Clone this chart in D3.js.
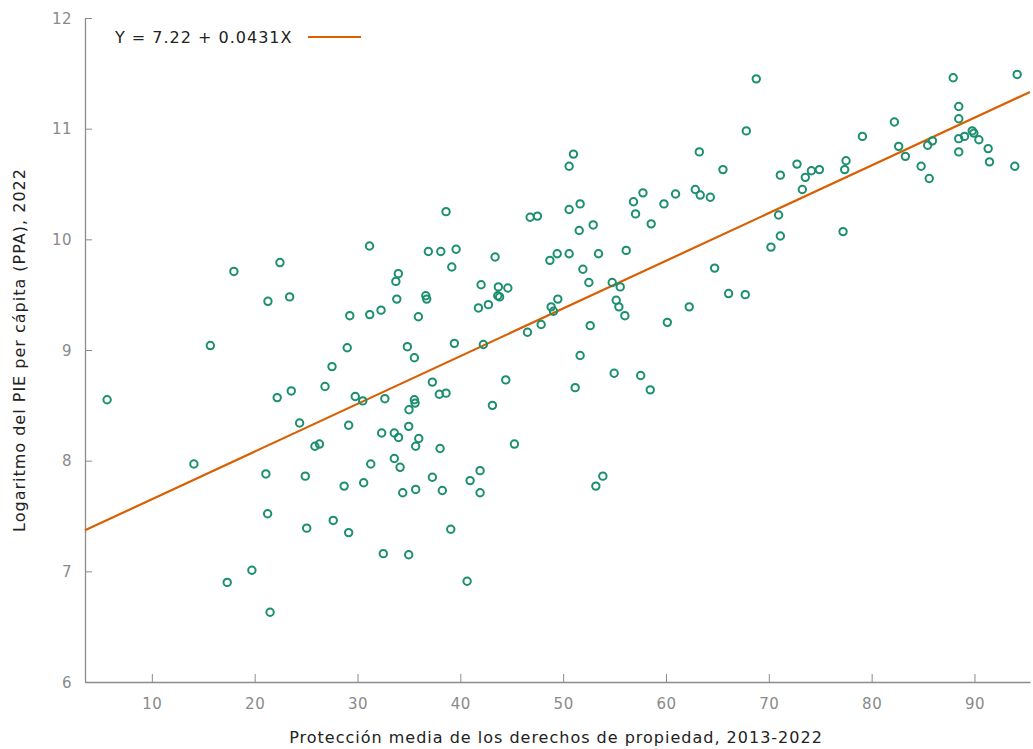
<!DOCTYPE html>
<html>
<head>
<meta charset="utf-8">
<script src="https://cdn.jsdelivr.net/npm/d3@7"></script>
<style>
  body { margin: 0; background: #fff; }
  text { font-family: "DejaVu Sans", Verdana, sans-serif; }
</style>
</head>
<body>
<div class="canvas"></div>
<script>
// property-rights score (x) and log GDP per capita (y)
const xVals = [
  5.65, 14.09, 15.69, 17.98, 17.33, 19.73, 21.50, 21.09, 21.26, 21.29,
  22.46, 22.19, 23.40, 23.56, 24.37, 24.92, 25.06, 25.86, 26.30, 26.84,
  27.52, 27.64, 28.70, 29.14, 29.00, 29.14, 29.25, 29.78, 30.51, 30.60,
  31.17, 31.29, 31.19, 32.29, 32.51, 32.35, 32.66, 33.58, 33.58, 33.73,
  33.97, 33.82, 33.99, 34.14, 34.40, 34.85, 34.98, 34.98, 35.01, 35.53,
  35.53, 35.60, 35.66, 35.66, 35.96, 35.92, 36.64, 36.73, 36.89, 37.28,
  37.28, 38.10, 37.96, 38.03, 38.25, 38.61, 38.61, 39.07, 39.17, 39.42,
  39.59, 40.66, 45.26, 41.92, 40.95, 41.92, 53.18, 53.86, 43.38, 46.79,
  47.50, 50.58, 51.65, 51.56, 52.92, 56.84, 57.04, 48.71, 49.42, 50.58,
  53.44, 56.13, 51.92, 52.50, 54.77, 55.55, 55.16, 55.42, 56.00, 42.02,
  43.70, 44.62, 43.64, 43.82, 41.76, 42.73, 49.48, 48.83, 49.06, 47.86,
  46.53, 52.63, 42.24, 51.65, 54.96, 57.54, 44.42, 51.17, 43.12, 58.47,
  51.00, 50.58, 60.13, 62.26, 64.73, 66.09, 67.71, 70.21, 71.12, 70.95,
  77.22, 68.78, 87.93, 94.15, 88.47, 88.47, 82.21, 67.81, 79.10, 88.47,
  89.03, 89.78, 89.94, 90.43, 63.24, 82.63, 83.28, 85.45, 85.91, 88.47,
  91.33, 91.46, 93.92, 84.81, 85.60, 65.54, 71.12, 72.74, 73.55, 74.14,
  74.92, 77.51, 77.38, 73.26, 57.76, 58.56, 59.80, 60.93, 62.85, 63.33,
  64.31
];
const yVals = [
  8.55, 7.97, 9.04, 9.71, 6.90, 7.01, 6.63, 7.88, 7.52, 9.44,
  9.79, 8.57, 9.48, 8.63, 8.34, 7.86, 7.39, 8.13, 8.15, 8.67,
  8.85, 7.46, 7.77, 7.35, 9.02, 8.32, 9.31, 8.58, 8.54, 7.80,
  9.94, 7.97, 9.32, 9.36, 7.16, 8.25, 8.56, 8.25, 8.02, 9.62,
  9.69, 9.46, 8.21, 7.94, 7.71, 9.03, 8.31, 7.15, 8.46, 8.55,
  8.93, 8.52, 7.74, 8.13, 8.20, 9.30, 9.49, 9.46, 9.89, 8.71,
  7.85, 9.89, 8.60, 8.11, 7.73, 10.25, 8.61, 7.38, 9.75, 9.06,
  9.91, 6.91, 8.15, 7.91, 7.82, 7.71, 7.77, 7.86, 9.84, 10.20,
  10.21, 10.27, 10.32, 10.08, 10.13, 10.34, 10.23, 9.81, 9.87, 9.87,
  9.87, 9.90, 9.73, 9.61, 9.61, 9.57, 9.45, 9.39, 9.31, 9.59,
  9.57, 9.56, 9.49, 9.48, 9.38, 9.41, 9.46, 9.39, 9.35, 9.23,
  9.16, 9.22, 9.05, 8.95, 8.79, 8.77, 8.73, 8.66, 8.50, 8.64,
  10.77, 10.66, 9.25, 9.39, 9.74, 9.51, 9.50, 9.93, 10.03, 10.22,
  10.07, 11.45, 11.46, 11.49, 11.20, 11.09, 11.06, 10.98, 10.93, 10.91,
  10.93, 10.98, 10.96, 10.90, 10.79, 10.84, 10.75, 10.85, 10.89, 10.79,
  10.82, 10.70, 10.66, 10.66, 10.55, 10.63, 10.58, 10.68, 10.56, 10.62,
  10.63, 10.71, 10.63, 10.45, 10.42, 10.14, 10.32, 10.41, 10.45, 10.40,
  10.38
];
const intercept = 7.22;
const slope = 0.0431;
const xTicks = [10, 20, 30, 40, 50, 60, 70, 80, 90];
const yTicks = [6, 7, 8, 9, 10, 11, 12];

const W = 1033, H = 749;
const margin = { left: 85, right: 1030, top: 18, bottom: 682 };

const svg = d3.select('.canvas')
  .append('svg')
  .attr('width', W)
  .attr('height', H);

const x = d3.scaleLinear().domain([3.5, 95.4]).range([margin.left, margin.right]);
const y = d3.scaleLinear().domain([6, 12]).range([margin.bottom, margin.top]);

const green = '#1b8f6e';
const orange = '#d95f02';

// axes: gnuplot style, ticks pointing inwards
const xAxis = svg.append('g')
  .attr('transform', `translate(0, ${margin.bottom})`)
  .call(d3.axisTop(x).tickValues(xTicks).tickSize(8).tickSizeOuter(0));
xAxis.selectAll('text').remove();
xAxis.selectAll('g.tick')
  .append('text')
  .attr('y', 27)
  .attr('text-anchor', 'middle')
  .attr('fill', '#8a8a8a')
  .style('font-size', '15px')
  .style('letter-spacing', '0.5px')
  .text(d => d);

const yAxis = svg.append('g')
  .attr('transform', `translate(${margin.left}, 0)`)
  .call(d3.axisRight(y).tickValues(yTicks).tickSize(7).tickSizeOuter(0));
yAxis.selectAll('text').remove();
yAxis.selectAll('g.tick')
  .append('text')
  .attr('x', -13)
  .attr('dy', '0.35em')
  .attr('text-anchor', 'end')
  .attr('fill', '#8a8a8a')
  .style('font-size', '15px')
  .style('letter-spacing', '0.5px')
  .text(d => d);

svg.selectAll('.domain').attr('stroke', '#8c8c8c').attr('stroke-width', 1.3);
svg.selectAll('.tick line').attr('stroke', '#8c8c8c');

// regression line
const [x0, x1] = x.domain();
svg.append('line')
  .attr('x1', x(x0)).attr('y1', y(intercept + slope * x0))
  .attr('x2', x(x1)).attr('y2', y(intercept + slope * x1))
  .attr('stroke', orange)
  .attr('stroke-width', 2.2);

// points
svg.append('g')
  .selectAll('circle')
  .data(xVals.map((v, i) => [v, yVals[i]]))
  .enter()
  .append('circle')
  .attr('cx', d => x(d[0]))
  .attr('cy', d => y(d[1]))
  .attr('r', 3.7)
  .attr('fill', 'none')
  .attr('stroke', green)
  .attr('stroke-width', 2);

// legend
svg.append('text')
  .attr('x', 115)
  .attr('y', 43)
  .attr('fill', '#222')
  .style('font-size', '16px')
  .style('letter-spacing', '1px')
  .text(`Y = ${intercept} + ${slope}X`);
svg.append('line')
  .attr('x1', 308).attr('x2', 361)
  .attr('y1', 37).attr('y2', 37)
  .attr('stroke', orange)
  .attr('stroke-width', 2.2);

// axis titles
svg.append('text')
  .attr('x', 556)
  .attr('y', 743)
  .attr('text-anchor', 'middle')
  .attr('fill', '#222')
  .style('font-size', '16px')
  .style('letter-spacing', '1px')
  .text('Protección media de los derechos de propiedad, 2013-2022');

svg.append('text')
  .attr('transform', `translate(25, ${(margin.top + margin.bottom) / 2}) rotate(-90)`)
  .attr('text-anchor', 'middle')
  .attr('fill', '#222')
  .style('font-size', '16px')
  .style('letter-spacing', '1px')
  .text('Logaritmo del PIE per cápita (PPA), 2022');
</script>
</body>
</html>
